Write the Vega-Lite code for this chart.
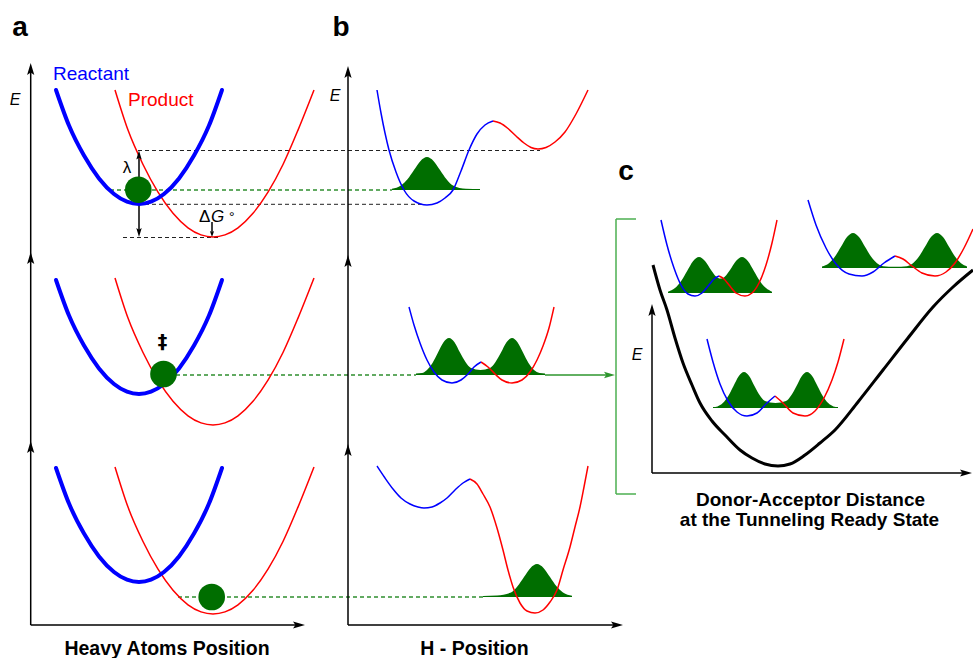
{
"$schema": "https://vega.github.io/schema/vega-lite/v6.json",
"width": 973, "height": 658, "padding": 0, "autosize": {"type": "none"},
"background": "white",
"config": {"view": {"stroke": null}},
"datasets": {
"gauss": [
{"g":"b1","x":392,"y":188.8,"b":190},{"g":"b1","x":401,"y":185.5,"b":190},{"g":"b1","x":407.5,"y":179.3,"b":190},{"g":"b1","x":414,"y":170,"b":190},{"g":"b1","x":420.5,"y":160.9,"b":190},{"g":"b1","x":427,"y":157,"b":190},{"g":"b1","x":433.5,"y":160.9,"b":190},{"g":"b1","x":440,"y":170,"b":190},{"g":"b1","x":446.5,"y":179.3,"b":190},{"g":"b1","x":453,"y":185.5,"b":190},{"g":"b1","x":466,"y":188.8,"b":190},{"g":"b1","x":480,"y":189,"b":190},
{"g":"b2","x":416,"y":373.5,"b":375},{"g":"b2","x":422,"y":373,"b":375},{"g":"b2","x":427,"y":370,"b":375},{"g":"b2","x":432.5,"y":363,"b":375},{"g":"b2","x":438,"y":352.6,"b":375},{"g":"b2","x":443.5,"y":342.3,"b":375},{"g":"b2","x":449,"y":338,"b":375},{"g":"b2","x":454.5,"y":342.3,"b":375},{"g":"b2","x":460,"y":352.6,"b":375},{"g":"b2","x":465.5,"y":362,"b":375},{"g":"b2","x":471,"y":368,"b":375},{"g":"b2","x":480.5,"y":370,"b":375},{"g":"b2","x":490,"y":368,"b":375},{"g":"b2","x":495.5,"y":362,"b":375},{"g":"b2","x":501,"y":352.6,"b":375},{"g":"b2","x":506.5,"y":342.3,"b":375},{"g":"b2","x":512,"y":338,"b":375},{"g":"b2","x":517.5,"y":342.3,"b":375},{"g":"b2","x":523,"y":352.6,"b":375},{"g":"b2","x":528.5,"y":363,"b":375},{"g":"b2","x":534,"y":370,"b":375},{"g":"b2","x":539.5,"y":373,"b":375},{"g":"b2","x":545,"y":373.5,"b":375},
{"g":"b3","x":483,"y":596,"b":597},{"g":"b3","x":497,"y":595.5,"b":597},{"g":"b3","x":511,"y":592.5,"b":597},{"g":"b3","x":517.5,"y":586.3,"b":597},{"g":"b3","x":524,"y":577,"b":597},{"g":"b3","x":530.5,"y":567.9,"b":597},{"g":"b3","x":537,"y":564,"b":597},{"g":"b3","x":543.5,"y":567.9,"b":597},{"g":"b3","x":550,"y":577,"b":597},{"g":"b3","x":556.5,"y":586.3,"b":597},{"g":"b3","x":563,"y":592.5,"b":597},{"g":"b3","x":572,"y":595.8,"b":597},
{"g":"c1","x":668,"y":291.7,"b":293},{"g":"c1","x":675,"y":288.1,"b":293},{"g":"c1","x":681,"y":281.3,"b":293},{"g":"c1","x":687,"y":271.2,"b":293},{"g":"c1","x":693,"y":261.2,"b":293},{"g":"c1","x":699,"y":257,"b":293},{"g":"c1","x":705,"y":260.9,"b":293},{"g":"c1","x":711,"y":269.9,"b":293},{"g":"c1","x":716,"y":276.4,"b":293},{"g":"c1","x":720.5,"y":278.6,"b":293},{"g":"c1","x":725,"y":276.4,"b":293},{"g":"c1","x":730,"y":269.9,"b":293},{"g":"c1","x":736,"y":260.9,"b":293},{"g":"c1","x":742,"y":257,"b":293},{"g":"c1","x":748,"y":261.2,"b":293},{"g":"c1","x":754,"y":271.2,"b":293},{"g":"c1","x":760,"y":281.3,"b":293},{"g":"c1","x":766,"y":288.1,"b":293},{"g":"c1","x":772,"y":291.7,"b":293},
{"g":"c2","x":822,"y":266.5,"b":268},{"g":"c2","x":829,"y":263.3,"b":268},{"g":"c2","x":835,"y":256.6,"b":268},{"g":"c2","x":841,"y":246.8,"b":268},{"g":"c2","x":847,"y":237.1,"b":268},{"g":"c2","x":853,"y":233,"b":268},{"g":"c2","x":859,"y":237.1,"b":268},{"g":"c2","x":865,"y":246.8,"b":268},{"g":"c2","x":871,"y":256.6,"b":268},{"g":"c2","x":877,"y":263.3,"b":268},{"g":"c2","x":883,"y":266.2,"b":268},{"g":"c2","x":895,"y":266.8,"b":268},{"g":"c2","x":907,"y":266.2,"b":268},{"g":"c2","x":913,"y":263.3,"b":268},{"g":"c2","x":919,"y":256.6,"b":268},{"g":"c2","x":925,"y":246.8,"b":268},{"g":"c2","x":931,"y":237.1,"b":268},{"g":"c2","x":937,"y":233,"b":268},{"g":"c2","x":943,"y":237.1,"b":268},{"g":"c2","x":949,"y":246.8,"b":268},{"g":"c2","x":955,"y":256.6,"b":268},{"g":"c2","x":961,"y":263.3,"b":268},{"g":"c2","x":967,"y":266.5,"b":268},
{"g":"c3","x":713,"y":407,"b":408},{"g":"c3","x":717.5,"y":406.4,"b":408},{"g":"c3","x":722.8,"y":403.1,"b":408},{"g":"c3","x":728.1,"y":396.3,"b":408},{"g":"c3","x":733.4,"y":386.2,"b":408},{"g":"c3","x":738.7,"y":376.2,"b":408},{"g":"c3","x":744,"y":372,"b":408},{"g":"c3","x":749.3,"y":376.2,"b":408},{"g":"c3","x":754.6,"y":386.2,"b":408},{"g":"c3","x":759.9,"y":395.5,"b":408},{"g":"c3","x":765,"y":401,"b":408},{"g":"c3","x":775.5,"y":403,"b":408},{"g":"c3","x":786,"y":401,"b":408},{"g":"c3","x":791.1,"y":395.5,"b":408},{"g":"c3","x":796.4,"y":386.2,"b":408},{"g":"c3","x":801.7,"y":376.2,"b":408},{"g":"c3","x":807,"y":372,"b":408},{"g":"c3","x":812.3,"y":376.2,"b":408},{"g":"c3","x":817.6,"y":386.2,"b":408},{"g":"c3","x":822.9,"y":396.3,"b":408},{"g":"c3","x":828.2,"y":403.1,"b":408},{"g":"c3","x":833.5,"y":406.4,"b":408},{"g":"c3","x":838,"y":407,"b":408}
],
"red": [
{"c":"a1","x":115,"y":90},{"c":"a1","x":128,"y":130.1},{"c":"a1","x":143,"y":164.5},{"c":"a1","x":158,"y":192.2},{"c":"a1","x":173,"y":213.3},{"c":"a1","x":188,"y":227.8},{"c":"a1","x":201,"y":234.9},{"c":"a1","x":213,"y":237},{"c":"a1","x":225,"y":234.9},{"c":"a1","x":238,"y":227.8},{"c":"a1","x":253,"y":213.3},{"c":"a1","x":268,"y":192.2},{"c":"a1","x":283,"y":164.5},{"c":"a1","x":298,"y":130.1},{"c":"a1","x":314,"y":90},
{"c":"a2","x":115,"y":278},{"c":"a2","x":128,"y":318.1},{"c":"a2","x":143,"y":352.5},{"c":"a2","x":158,"y":380.2},{"c":"a2","x":173,"y":401.3},{"c":"a2","x":188,"y":415.8},{"c":"a2","x":201,"y":422.9},{"c":"a2","x":213,"y":425},{"c":"a2","x":225,"y":422.9},{"c":"a2","x":238,"y":415.8},{"c":"a2","x":253,"y":401.3},{"c":"a2","x":268,"y":380.2},{"c":"a2","x":283,"y":352.5},{"c":"a2","x":298,"y":318.1},{"c":"a2","x":314,"y":278},
{"c":"a3","x":115,"y":467},{"c":"a3","x":128,"y":507.1},{"c":"a3","x":143,"y":541.5},{"c":"a3","x":158,"y":569.2},{"c":"a3","x":173,"y":590.3},{"c":"a3","x":188,"y":604.8},{"c":"a3","x":201,"y":611.9},{"c":"a3","x":213,"y":614},{"c":"a3","x":225,"y":611.9},{"c":"a3","x":238,"y":604.8},{"c":"a3","x":253,"y":590.3},{"c":"a3","x":268,"y":569.2},{"c":"a3","x":283,"y":541.5},{"c":"a3","x":298,"y":507.1},{"c":"a3","x":314,"y":467},
{"c":"b1","x":493,"y":121},{"c":"b1","x":500,"y":123},{"c":"b1","x":508,"y":128.5},{"c":"b1","x":516,"y":136},{"c":"b1","x":524,"y":143},{"c":"b1","x":531,"y":147.5},{"c":"b1","x":538,"y":149},{"c":"b1","x":546,"y":147.5},{"c":"b1","x":555,"y":142},{"c":"b1","x":565,"y":132},{"c":"b1","x":576,"y":114},{"c":"b1","x":588,"y":90},
{"c":"b2","x":481,"y":362},{"c":"b2","x":488,"y":367},{"c":"b2","x":495,"y":374},{"c":"b2","x":502,"y":380},{"c":"b2","x":512,"y":383},{"c":"b2","x":522,"y":380},{"c":"b2","x":530,"y":372},{"c":"b2","x":537,"y":360},{"c":"b2","x":543,"y":346},{"c":"b2","x":549,"y":328},{"c":"b2","x":554,"y":307},
{"c":"b3","x":470,"y":479},{"c":"b3","x":477,"y":484},{"c":"b3","x":483,"y":494},{"c":"b3","x":490,"y":507},{"c":"b3","x":497,"y":528},{"c":"b3","x":503,"y":550},{"c":"b3","x":508,"y":570},{"c":"b3","x":513,"y":587},{"c":"b3","x":520,"y":603},{"c":"b3","x":527,"y":611},{"c":"b3","x":535,"y":613},{"c":"b3","x":543,"y":610},{"c":"b3","x":550,"y":602},{"c":"b3","x":557,"y":590},{"c":"b3","x":563,"y":570},{"c":"b3","x":570,"y":547},{"c":"b3","x":575,"y":527},{"c":"b3","x":580,"y":507},{"c":"b3","x":584,"y":487},{"c":"b3","x":588,"y":466},
{"c":"c1","x":719,"y":276},{"c":"c1","x":724,"y":279},{"c":"c1","x":729,"y":285},{"c":"c1","x":736,"y":293},{"c":"c1","x":745,"y":296},{"c":"c1","x":752,"y":293},{"c":"c1","x":759,"y":283},{"c":"c1","x":766,"y":265},{"c":"c1","x":772,"y":243},{"c":"c1","x":777,"y":220},
{"c":"c2","x":895,"y":256},{"c":"c2","x":903,"y":259},{"c":"c2","x":912,"y":266},{"c":"c2","x":922,"y":273},{"c":"c2","x":935,"y":276},{"c":"c2","x":946,"y":272},{"c":"c2","x":955,"y":263},{"c":"c2","x":964,"y":248},{"c":"c2","x":973,"y":229},
{"c":"c3","x":775,"y":396},{"c":"c3","x":783,"y":403},{"c":"c3","x":793,"y":413},{"c":"c3","x":805,"y":416},{"c":"c3","x":815,"y":411},{"c":"c3","x":824,"y":398},{"c":"c3","x":832,"y":380},{"c":"c3","x":838,"y":362},{"c":"c3","x":844,"y":339}
],
"blueThin": [
{"c":"b1","x":377,"y":90},{"c":"b1","x":381,"y":113},{"c":"b1","x":385,"y":133},{"c":"b1","x":389,"y":150},{"c":"b1","x":396,"y":172},{"c":"b1","x":404,"y":190},{"c":"b1","x":414,"y":201},{"c":"b1","x":427,"y":205},{"c":"b1","x":437,"y":203},{"c":"b1","x":445,"y":198},{"c":"b1","x":453,"y":190},{"c":"b1","x":461,"y":171},{"c":"b1","x":469,"y":150},{"c":"b1","x":477,"y":134},{"c":"b1","x":485,"y":125},{"c":"b1","x":493,"y":121},
{"c":"b2","x":409,"y":307},{"c":"b2","x":414,"y":325},{"c":"b2","x":420,"y":343},{"c":"b2","x":427,"y":360},{"c":"b2","x":434,"y":372},{"c":"b2","x":442,"y":380},{"c":"b2","x":452,"y":383},{"c":"b2","x":461,"y":380},{"c":"b2","x":468,"y":374},{"c":"b2","x":474,"y":367},{"c":"b2","x":481,"y":362},
{"c":"b3","x":377,"y":466},{"c":"b3","x":385,"y":478},{"c":"b3","x":393,"y":489},{"c":"b3","x":401,"y":498},{"c":"b3","x":410,"y":504},{"c":"b3","x":418,"y":507},{"c":"b3","x":424,"y":508},{"c":"b3","x":432,"y":507},{"c":"b3","x":440,"y":503},{"c":"b3","x":447,"y":498},{"c":"b3","x":455,"y":490},{"c":"b3","x":463,"y":483},{"c":"b3","x":470,"y":479},
{"c":"c1","x":661,"y":220},{"c":"c1","x":667,"y":245},{"c":"c1","x":674,"y":268},{"c":"c1","x":681,"y":285},{"c":"c1","x":688,"y":294},{"c":"c1","x":695,"y":296},{"c":"c1","x":702,"y":293},{"c":"c1","x":709,"y":285},{"c":"c1","x":714,"y":279},{"c":"c1","x":719,"y":276},
{"c":"c2","x":808,"y":200},{"c":"c2","x":816,"y":225},{"c":"c2","x":826,"y":248},{"c":"c2","x":836,"y":264},{"c":"c2","x":849,"y":274},{"c":"c2","x":862,"y":276},{"c":"c2","x":873,"y":272},{"c":"c2","x":884,"y":263},{"c":"c2","x":895,"y":256},
{"c":"c3","x":707,"y":339},{"c":"c3","x":713,"y":362},{"c":"c3","x":720,"y":384},{"c":"c3","x":728,"y":401},{"c":"c3","x":737,"y":412},{"c":"c3","x":747,"y":416},{"c":"c3","x":757,"y":413},{"c":"c3","x":767,"y":403},{"c":"c3","x":775,"y":396}
],
"blueThick": [
{"c":"a1","x":56,"y":90},{"c":"a1","x":69,"y":125.6},{"c":"a1","x":84,"y":155.6},{"c":"a1","x":99,"y":178.4},{"c":"a1","x":114,"y":194},{"c":"a1","x":127,"y":201.7},{"c":"a1","x":139,"y":204},{"c":"a1","x":151,"y":201.7},{"c":"a1","x":164,"y":194},{"c":"a1","x":179,"y":178.4},{"c":"a1","x":194,"y":155.6},{"c":"a1","x":209,"y":125.6},{"c":"a1","x":222,"y":90},
{"c":"a2","x":56,"y":280},{"c":"a2","x":69,"y":315.6},{"c":"a2","x":84,"y":345.6},{"c":"a2","x":99,"y":368.4},{"c":"a2","x":114,"y":384},{"c":"a2","x":127,"y":391.7},{"c":"a2","x":139,"y":394},{"c":"a2","x":151,"y":391.7},{"c":"a2","x":164,"y":384},{"c":"a2","x":179,"y":368.4},{"c":"a2","x":194,"y":345.6},{"c":"a2","x":209,"y":315.6},{"c":"a2","x":222,"y":280},
{"c":"a3","x":56,"y":468},{"c":"a3","x":69,"y":503.6},{"c":"a3","x":84,"y":533.6},{"c":"a3","x":99,"y":556.4},{"c":"a3","x":114,"y":572},{"c":"a3","x":127,"y":579.7},{"c":"a3","x":139,"y":582},{"c":"a3","x":151,"y":579.7},{"c":"a3","x":164,"y":572},{"c":"a3","x":179,"y":556.4},{"c":"a3","x":194,"y":533.6},{"c":"a3","x":209,"y":503.6},{"c":"a3","x":222,"y":468}
],
"blackCurve": [
{"x":653,"y":265},{"x":660,"y":290},{"x":667,"y":310},{"x":675,"y":338},{"x":683,"y":363},{"x":692,"y":385},{"x":700,"y":403},{"x":712,"y":421},{"x":725,"y":435},{"x":740,"y":450},{"x":752,"y":458},{"x":765,"y":464},{"x":778,"y":466},{"x":790,"y":464},{"x":805,"y":455},{"x":820,"y":443},{"x":835,"y":430},{"x":858,"y":402},{"x":883,"y":370},{"x":908,"y":338},{"x":933,"y":307},{"x":953,"y":287},{"x":973,"y":270}
],
"axes": [
{"x":30.7,"y":68,"x2":30.7,"y2":625},{"x":30.7,"y":625,"x2":300,"y2":625},
{"x":348,"y":71,"x2":348,"y2":625},{"x":348,"y":625,"x2":618,"y2":625},
{"x":652,"y":309,"x2":652,"y2":473},{"x":652,"y":473,"x2":967,"y2":473},
{"x":139,"y":155,"x2":139,"y2":232},{"x":212,"y":222,"x2":212,"y2":232}
],
"dashBlack": [
{"x":138,"y":150.5,"x2":540,"y2":150.5},{"x":138,"y":204.3,"x2":424,"y2":204.3},{"x":123,"y":237.5,"x2":221,"y2":237.5}
],
"dashGreen": [
{"x":110,"y":190,"x2":392,"y2":190},{"x":176,"y":375,"x2":416,"y2":375},{"x":178,"y":597,"x2":483,"y2":597}
],
"greenArrowLine": [
{"x":545,"y":375,"x2":607,"y2":375}
],
"bracket": [
{"x":616,"y":219,"x2":616,"y2":494},{"x":616,"y":219,"x2":636,"y2":219},{"x":616,"y":494,"x2":636,"y2":494}
],
"circles": [
{"x":138.3,"y":189.7},{"x":163.5,"y":374},{"x":211.7,"y":597}
],
"arrUp": [
{"x":30.7,"y":63},{"x":30.7,"y":252},{"x":30.7,"y":441},{"x":348,"y":66},{"x":348,"y":255},{"x":348,"y":444},{"x":652,"y":304}
],
"arrRight": [
{"x":305,"y":625},{"x":623,"y":625},{"x":972,"y":473}
],
"lamUp": [{"x":139,"y":150.5}],
"lamDown": [{"x":139,"y":237}],
"dgDown": [{"x":212,"y":237}],
"greenHead": [{"x":615,"y":375}],
"letters": [{"x":20,"y":36,"t":"a"},{"x":341,"y":36,"t":"b"},{"x":626,"y":180,"t":"c"}],
"eLabels": [{"x":15,"y":105,"t":"E"},{"x":335,"y":101,"t":"E"},{"x":637,"y":360,"t":"E"}],
"reactant": [{"x":53,"y":80,"t":"Reactant"}],
"product": [{"x":128,"y":106,"t":"Product"}],
"lambda": [{"x":127,"y":173,"t":"λ"}],
"delta": [{"x":199,"y":222,"t":"Δ"}],
"gItalic": [{"x":211,"y":222,"t":"G"}],
"degree": [{"x":229,"y":222,"t":"°"}],
"ddagger": [{"x":162.5,"y":348,"t":"‡"}],
"bottomTitles": [
{"x":167,"y":655,"t":"Heavy Atoms Position"},{"x":474.5,"y":655,"t":"H - Position"}
],
"cTitles": [
{"x":810.5,"y":506,"t":"Donor-Acceptor Distance"},{"x":809.5,"y":526,"t":"at the Tunneling Ready State"}
]
},
"encoding": {
"x": {"field":"x","type":"quantitative","scale":{"domain":[0,973],"nice":false,"zero":false},"axis":null},
"y": {"field":"y","type":"quantitative","scale":{"domain":[0,658],"nice":false,"zero":false,"reverse":true},"axis":null}
},
"layer": [
{"data":{"name":"gauss"},"mark":{"type":"area","interpolate":"monotone","color":"#006e00","opacity":1},"encoding":{"y2":{"field":"b"},"detail":{"field":"g"}}},
{"data":{"name":"dashBlack"},"mark":{"type":"rule","color":"#222222","strokeWidth":1,"strokeDash":[4,3]},"encoding":{"x2":{"field":"x2"},"y2":{"field":"y2"}}},
{"data":{"name":"dashGreen"},"mark":{"type":"rule","color":"#2f8f2f","strokeWidth":1.3,"strokeDash":[4,3]},"encoding":{"x2":{"field":"x2"},"y2":{"field":"y2"}}},
{"data":{"name":"axes"},"mark":{"type":"rule","color":"black","strokeWidth":1.5},"encoding":{"x2":{"field":"x2"},"y2":{"field":"y2"}}},
{"data":{"name":"greenArrowLine"},"mark":{"type":"rule","color":"#2e962e","strokeWidth":1.5},"encoding":{"x2":{"field":"x2"},"y2":{"field":"y2"}}},
{"data":{"name":"bracket"},"mark":{"type":"rule","color":"#4caf50","strokeWidth":1.5},"encoding":{"x2":{"field":"x2"},"y2":{"field":"y2"}}},
{"data":{"name":"red"},"mark":{"type":"line","interpolate":"monotone","color":"#ff0000","strokeWidth":1.5},"encoding":{"detail":{"field":"c"}}},
{"data":{"name":"blueThin"},"mark":{"type":"line","interpolate":"monotone","color":"#0000ff","strokeWidth":1.5},"encoding":{"detail":{"field":"c"}}},
{"data":{"name":"blueThick"},"mark":{"type":"line","interpolate":"monotone","color":"#0000ff","strokeWidth":4,"strokeCap":"round"},"encoding":{"detail":{"field":"c"}}},
{"data":{"name":"blackCurve"},"mark":{"type":"line","interpolate":"monotone","color":"black","strokeWidth":3}},
{"data":{"name":"circles"},"mark":{"type":"point","shape":"circle","filled":true,"size":710,"color":"#006e00","opacity":1}},
{"data":{"name":"arrUp"},"mark":{"type":"point","shape":"M0,0L-0.3,1L0,0.8L0.3,1Z","filled":true,"size":576,"color":"black","opacity":1}},
{"data":{"name":"arrRight"},"mark":{"type":"point","shape":"M0,0L-1,-0.3L-0.8,0L-1,0.3Z","filled":true,"size":576,"color":"black","opacity":1}},
{"data":{"name":"lamUp"},"mark":{"type":"point","shape":"M0,0L-0.3,1L0,0.8L0.3,1Z","filled":true,"size":324,"color":"black","opacity":1}},
{"data":{"name":"lamDown"},"mark":{"type":"point","shape":"M0,0L-0.3,-1L0,-0.8L0.3,-1Z","filled":true,"size":324,"color":"black","opacity":1}},
{"data":{"name":"dgDown"},"mark":{"type":"point","shape":"M0,0L-0.35,-1L0,-0.8L0.35,-1Z","filled":true,"size":144,"color":"black","opacity":1}},
{"data":{"name":"greenHead"},"mark":{"type":"point","shape":"M0,0L-1,-0.3L-0.8,0L-1,0.3Z","filled":true,"size":484,"color":"#2e962e","opacity":1}},
{"data":{"name":"letters"},"mark":{"type":"text","font":"Liberation Sans","fontSize":28,"fontWeight":"bold","align":"center","baseline":"alphabetic","color":"black"},"encoding":{"text":{"field":"t"}}},
{"data":{"name":"eLabels"},"mark":{"type":"text","font":"Liberation Sans","fontSize":16,"fontStyle":"italic","align":"center","baseline":"alphabetic","color":"black"},"encoding":{"text":{"field":"t"}}},
{"data":{"name":"reactant"},"mark":{"type":"text","font":"Liberation Sans","fontSize":19,"align":"left","baseline":"alphabetic","color":"#0000ff"},"encoding":{"text":{"field":"t"}}},
{"data":{"name":"product"},"mark":{"type":"text","font":"Liberation Sans","fontSize":19,"align":"left","baseline":"alphabetic","color":"#ff0000"},"encoding":{"text":{"field":"t"}}},
{"data":{"name":"lambda"},"mark":{"type":"text","font":"Liberation Sans","fontSize":17,"align":"center","baseline":"alphabetic","color":"black"},"encoding":{"text":{"field":"t"}}},
{"data":{"name":"delta"},"mark":{"type":"text","font":"Liberation Sans","fontSize":17,"align":"left","baseline":"alphabetic","color":"black"},"encoding":{"text":{"field":"t"}}},
{"data":{"name":"gItalic"},"mark":{"type":"text","font":"Liberation Sans","fontSize":17,"fontStyle":"italic","align":"left","baseline":"alphabetic","color":"black"},"encoding":{"text":{"field":"t"}}},
{"data":{"name":"degree"},"mark":{"type":"text","font":"Liberation Sans","fontSize":14,"align":"left","baseline":"alphabetic","color":"black"},"encoding":{"text":{"field":"t"}}},
{"data":{"name":"ddagger"},"mark":{"type":"text","font":"DejaVu Sans","fontSize":19,"fontWeight":"bold","align":"center","baseline":"alphabetic","color":"black"},"encoding":{"text":{"field":"t"}}},
{"data":{"name":"bottomTitles"},"mark":{"type":"text","font":"Liberation Sans","fontSize":19.5,"fontWeight":"bold","align":"center","baseline":"alphabetic","color":"black"},"encoding":{"text":{"field":"t"}}},
{"data":{"name":"cTitles"},"mark":{"type":"text","font":"Liberation Sans","fontSize":19,"fontWeight":"bold","align":"center","baseline":"alphabetic","color":"black"},"encoding":{"text":{"field":"t"}}}
]
}
